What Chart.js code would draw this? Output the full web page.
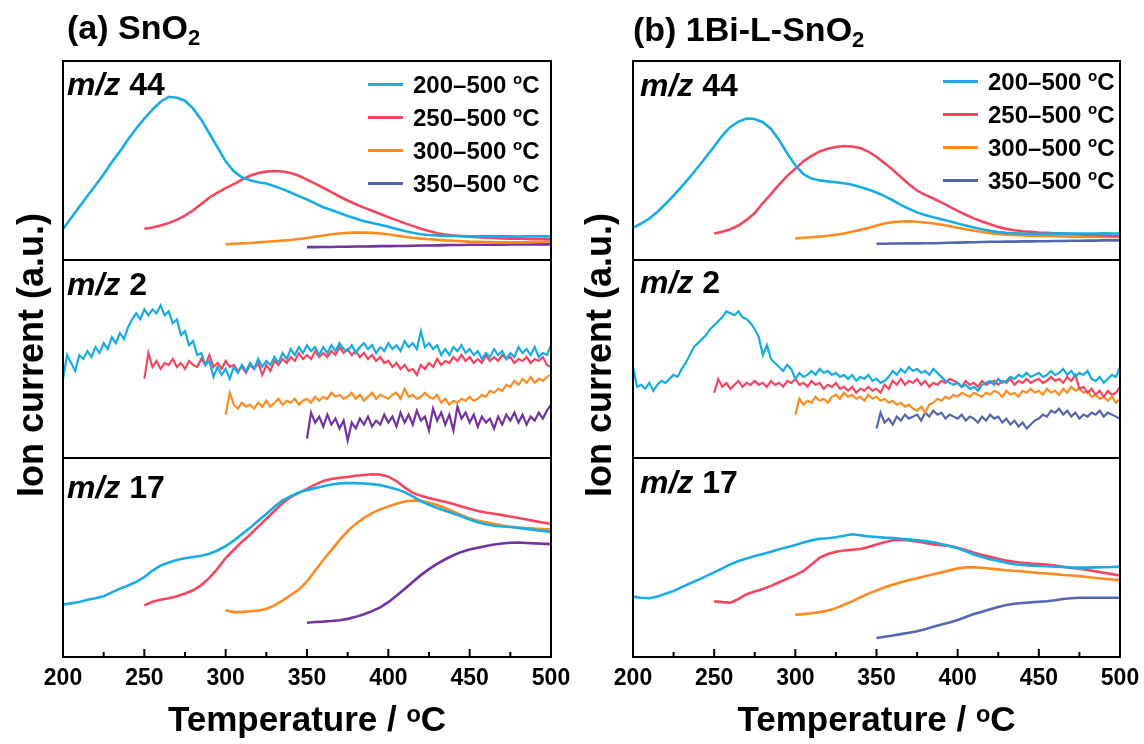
<!DOCTYPE html>
<html>
<head>
<meta charset="utf-8">
<script src="https://cdn.jsdelivr.net/npm/chart.js@4.4.0/dist/chart.umd.min.js"></script>
<style>
  body { margin: 0; background: #fff; width: 1144px; height: 744px; position: relative; overflow: hidden;
         font-family: 'Liberation Sans', Arial, sans-serif; font-weight: bold; color: #000; }
  .panel { position: absolute; top: 0; width: 572px; height: 744px; }
  .title { position: absolute; font-size: 34px; line-height: 34px; white-space: nowrap; }
  .title sub { font-size: 22px; vertical-align: -6px; line-height: 0; }
  .ylab { position: absolute; font-size: 36px; white-space: nowrap; transform: translate(-50%, -50%) rotate(-90deg); }
  .band { position: absolute; font-size: 32px; line-height: 32px; white-space: nowrap; }
  .legend { position: absolute; font-size: 24px; }
  .legend .row { height: 33px; line-height: 33px; white-space: nowrap; }
  .legend .sw { display: inline-block; width: 35px; height: 3px; vertical-align: middle; margin-right: 10px; position: relative; top: -2px; }
  .legend sup { font-size: 15px; vertical-align: 9px; line-height: 0; }
</style>
</head>
<body>
<div class="panel" style="left:0"><canvas id="chartA" width="572" height="744"></canvas></div>
<div class="panel" style="left:572px"><canvas id="chartB" width="572" height="744"></canvas></div>

<div class="title" style="left:67px; top:10px">(a) SnO<sub>2</sub></div>
<div class="title" style="left:633px; top:12px">(b) 1Bi-L-SnO<sub>2</sub></div>
<div class="ylab" style="left:31px; top:355px">Ion current (a.u.)</div>
<div class="ylab" style="left:599px; top:355px">Ion current (a.u.)</div>
<div id="bandsA"></div>
<div id="bandsB"></div>
<div class="legend" id="legendA" style="left:368px; top:68px"></div>
<div class="legend" id="legendB" style="left:943px; top:65px"></div>

<script>
// heating ranges: every trace starts at its own temperature and runs to 500 °C
const RANGE_START = [200, 250, 300, 350];
const RANGE_LABELS = ['200–500', '250–500', '300–500', '350–500'];
// stacked sub-plots, top to bottom
const BANDS = ['44', '2', '17'];
const BAND_STEP = [5, 2.5, 5];   // °C between readings

// ---- (a) SnO2, m/z 44 (relative signal, 0–100 per sub-plot) ----
const a44_200 = [15.5, 21, 26.5, 32, 37.5, 43, 49, 54.5, 60.5, 66, 71, 75.5, 79.5, 82, 81.5, 80, 76, 70.5, 63.5, 56.5,
  49.5, 44.5, 41.5, 40, 39, 38.3, 37, 35.5, 33.8, 32, 30.3, 28.3, 26.4, 25, 23.5, 22, 20.7, 19.4, 18.5, 17.6,
  16.6, 15.5, 14.4, 13.5, 12.8, 12.4, 12.2, 12, 11.9, 11.9, 11.8, 11.8, 11.7, 11.7, 11.8, 11.7, 11.6, 11.7, 11.8, 11.7, 11.7];
const a44_250 = [15.6, 16.2, 17.2, 18.5, 20, 22.2, 24.8, 28, 31.3, 33.8, 36, 38, 40.3, 42.2, 43.6, 44.3, 44.6, 44.4, 43.6, 42.2,
  40.3, 38.3, 36.2, 34, 31.8, 29.8, 27.9, 26.2, 24.6, 23, 21.4, 19.9, 18.4, 17, 15.6, 14.4, 13.3, 12.6, 12.1, 11.8,
  11.5, 11.3, 11.1, 10.9, 10.7, 10.6, 10.5, 10.4, 10.3, 10.3, 10.2];
const a44_300 = [7.7, 8, 8.2, 8.4, 8.7, 9, 9.3, 9.6, 9.9, 10.4, 10.9, 11.6, 12.2, 12.8, 13.2, 13.5, 13.6, 13.6, 13.5, 13.2,
  12.8, 12.1, 11.5, 11, 10.6, 10.3, 10, 9.7, 9.5, 9.3, 9.1, 9, 8.9, 8.8, 8.7, 8.7, 8.7, 8.8, 8.8, 8.9, 9];
const a44_350 = [6.3, 6.3, 6.4, 6.4, 6.5, 6.5, 6.6, 6.6, 6.7, 6.8, 6.8, 6.9, 6.9, 7, 7.1, 7.1, 7.2, 7.3, 7.4, 7.4,
  7.5, 7.5, 7.5, 7.5, 7.5, 7.6, 7.6, 7.6, 7.7, 7.7, 7.7];

// ---- (a) SnO2, m/z 2 ----
const a2_200 = [40, 52, 48, 44, 52, 50, 54, 51, 56, 53,
  58, 55, 61, 58, 63, 60, 66, 70, 73, 70,
  75, 72, 75, 73, 77, 72, 74, 68, 70, 62,
  64, 57, 59, 52, 53, 47, 49, 41, 46, 42,
  45, 40, 46, 43, 47, 44, 48, 45, 50, 46,
  49, 47, 51, 48, 53, 50, 55, 52, 56, 53,
  57, 54, 56, 52, 56, 53, 57, 54, 58, 55,
  54, 57, 53, 56, 58, 55, 57, 53, 56, 54,
  58, 55, 57, 54, 59, 56, 58, 55, 64, 56,
  58, 55, 57, 52, 55, 52, 56, 54, 57, 53,
  55, 52, 54, 50, 53, 51, 55, 52, 54, 50,
  53, 51, 56, 53, 55, 52, 56, 51, 53, 52, 57];
const a2_250 = [40, 53, 46, 49, 45, 48, 47, 50, 46, 48,
  45, 49, 47, 46, 50, 47, 52, 46, 48, 45,
  49, 46, 47, 44, 46, 43, 47, 45, 48, 42,
  47, 44, 49, 47, 50, 48, 51, 49, 53, 50,
  52, 50, 54, 51, 53, 51, 54, 52, 56, 53,
  55, 52, 54, 51, 53, 50, 52, 49, 51, 48,
  49, 46, 48, 45, 47, 44, 45, 42, 47, 45,
  48, 46, 50, 47, 49, 48, 51, 49, 52, 49,
  51, 48, 50, 48, 52, 49, 51, 49, 52, 50,
  51, 48, 50, 49, 51, 48, 50, 49, 51, 47, 46];
const a2_300 = [22, 33, 27, 25, 28, 26, 27, 25, 28, 26,
  29, 26, 28, 30, 27, 29, 28, 30, 27, 29,
  30, 28, 31, 29, 31, 30, 33, 31, 32, 30,
  31, 33, 30, 32, 29, 31, 33, 30, 32, 31,
  30, 32, 33, 30, 35, 31, 32, 30, 31, 33,
  31, 30, 32, 28, 30, 27, 29, 28, 30, 29,
  31, 29, 30, 32, 31, 34, 33, 35, 34, 37,
  36, 39, 37, 40, 38, 41, 38, 40, 39, 41, 42];
const a2_350 = [10, 23, 18, 21, 16, 22, 17, 20, 15, 19,
  9, 18, 15, 20, 17, 21, 16, 19, 17, 22,
  18, 21, 16, 23, 18, 22, 17, 24, 19, 21,
  14, 25, 19, 23, 17, 22, 14, 26, 20, 23,
  18, 22, 16, 21, 18, 20, 15, 21, 17, 22,
  19, 23, 18, 22, 17, 21, 19, 23, 20, 24, 27];

// ---- (a) SnO2, m/z 17 ----
const a17_200 = [26.4, 27, 27.7, 28.8, 29.6, 30.6, 32.5, 34.4, 36, 37.8, 40.2, 43.5, 46, 47.6, 48.8, 49.7, 50.3, 51, 52, 53.6,
  55.8, 58.6, 61.8, 65, 68.6, 72, 75.6, 78.8, 81, 82.8, 84, 85, 86, 86.8, 87.4, 87.6, 87.5, 87.3, 87, 86.5,
  85.6, 84.5, 83, 80.8, 78.5, 76.6, 75, 73.6, 72.2, 70.8, 69.2, 67.8, 66.8, 66.1, 65.7, 65.4, 65, 64.5, 64, 63.5, 63];
const a17_250 = [26, 27.8, 28.8, 29.6, 30.6, 32, 33.6, 36.2, 39.8, 44.5, 49.8, 54, 58, 61.6, 65.6, 69.5, 73.5, 77.5, 80.5, 82.6,
  84.6, 86.8, 88.6, 89.6, 90.2, 90.6, 91.2, 91.6, 92, 91.8, 90.8, 88.6, 85.4, 82.6, 81.2, 80, 79, 78.1, 77, 75.8,
  74.6, 73.5, 72.7, 72.1, 71.4, 70.7, 70, 69.2, 68.4, 67.7, 67];
const a17_300 = [23.5, 22.6, 22.7, 23, 23.4, 24.2, 26, 28.4, 31.2, 34, 38, 43.4, 48.8, 53.8, 58.8, 63.4, 67, 70, 72.4, 74.3,
  75.8, 77.2, 78.3, 78.8, 78.6, 77.6, 76.5, 75, 73.2, 71.4, 69.8, 68.6, 67.8, 67, 66.2, 65.6, 65.2, 64.9, 64.6, 64.4, 64.2];
const a17_350 = [17.2, 17.6, 17.8, 18.1, 18.5, 19.2, 20.2, 21.5, 23.1, 25, 27.6, 30.8, 34.2, 37.8, 41.2, 44.2, 46.9, 49.2, 51.2, 52.9,
  54.1, 55, 55.9, 56.6, 57.1, 57.5, 57.6, 57.4, 57.2, 57, 56.8];

// ---- (b) 1Bi-L-SnO2, m/z 44 ----
const b44_200 = [16, 18.2, 20.7, 24, 28, 32.3, 36.8, 41.5, 46.5, 51.7, 57, 62.5, 66.8, 69.5, 71, 70.8, 69.2, 65.8, 60.2, 53.5,
  47.5, 43, 40.8, 39.9, 39.4, 39, 38.5, 37.7, 36.6, 35.3, 33.8, 32, 29.9, 27.6, 25.6, 23.8, 22.5, 21.4, 20.4, 19.3,
  18.2, 17.2, 16.2, 15.3, 14.5, 13.9, 13.5, 13.3, 13.1, 13, 13, 13, 13.1, 13.1, 13.2, 13.2, 13.2, 13.2, 13.3, 13.2, 13.2];
const b44_250 = [13.2, 14, 15.3, 17.2, 20, 23.5, 28.5, 33, 37.8, 42.2, 45.8, 49.5, 52.3, 54.5, 55.8, 56.7, 57.2, 57, 56.2, 54.4,
  51.8, 48.6, 45.2, 41.6, 38, 34.8, 32.6, 30.8, 28.8, 26.7, 24.6, 22.6, 20.8, 19.2, 17.8, 16.5, 15.5, 14.8, 14.3, 14,
  13.7, 13.5, 13.3, 13.1, 12.9, 12.7, 12.5, 12.4, 12.2, 12, 11.9];
const b44_300 = [10.7, 11, 11.3, 11.6, 12, 12.5, 13.2, 14, 15, 16, 17.2, 18.2, 18.9, 19.2, 19.3, 19.1, 18.7, 18.2, 17.6, 16.9,
  16.1, 15.3, 14.6, 13.9, 13.3, 12.9, 12.6, 12.4, 12.2, 12.1, 12, 11.9, 11.8, 11.7, 11.6, 11.6, 11.5, 11.5, 11.4, 11.4, 11.4];
const b44_350 = [8, 8, 8.1, 8.1, 8.2, 8.2, 8.3, 8.3, 8.4, 8.5, 8.6, 8.7, 8.8, 8.9, 9, 9, 9.1, 9.1, 9.2, 9.2,
  9.3, 9.3, 9.4, 9.4, 9.5, 9.5, 9.6, 9.6, 9.7, 9.7, 9.7];

// ---- (b) 1Bi-L-SnO2, m/z 2 ----
const b2_200 = [46, 36, 37, 35, 38, 34, 37, 39, 38, 40,
  42, 41, 45, 48, 52, 56, 58, 60, 62, 65,
  67, 69, 71, 74, 73, 72, 74, 71, 70, 68,
  65, 61, 52, 57, 50, 48, 46, 44, 47, 45,
  40, 43, 41, 42, 44, 42, 45, 43, 44, 42,
  43, 41, 42, 40, 42, 39, 41, 40, 42, 39,
  40, 38, 39, 41, 44, 42, 45, 43, 46, 44,
  45, 43, 44, 42, 45, 43, 41, 39, 38, 37,
  38, 36, 37, 35, 36, 34, 37, 38, 39, 37,
  40, 38, 39, 41, 40, 42, 41, 43, 41, 42,
  43, 41, 42, 44, 42, 43, 45, 42, 44, 41,
  43, 42, 44, 40, 39, 41, 38, 40, 42, 41, 46];
const b2_250 = [33, 40, 36, 38, 35, 37, 39, 36, 38, 37,
  39, 37, 38, 36, 39, 37, 38, 36, 39, 38,
  40, 37, 38, 36, 39, 37, 38, 35, 37, 36,
  38, 35, 36, 34, 36, 33, 35, 34, 36, 34,
  35, 33, 37, 35, 39, 37, 40, 37, 39, 38,
  40, 37, 39, 36, 38, 37, 39, 38, 40, 39,
  38, 36, 39, 37, 38, 36, 39, 37, 38, 39,
  37, 39, 38, 40, 37, 39, 38, 40, 38, 39,
  40, 38, 39, 41, 39, 40, 38, 41, 39, 42,
  35, 36, 33, 35, 32, 34, 31, 34, 32, 33, 36];
const b2_300 = [22, 30, 27, 29, 28, 31, 29, 30, 28, 31,
  32, 30, 33, 31, 32, 30, 31, 29, 32, 30,
  31, 29, 30, 28, 29, 27, 28, 26, 27, 25,
  24, 26, 23, 27, 28, 30, 29, 31, 30, 32,
  31, 33, 32, 31, 33, 32, 31, 33, 32, 34,
  33, 31, 34, 32, 33, 31, 34, 33, 35, 33,
  34, 32, 35, 33, 34, 32, 35, 33, 36, 34,
  35, 33, 34, 31, 32, 30, 31, 29, 31, 28, 30];
const b2_350 = [15, 23, 18, 20, 17, 21, 19, 22, 20, 21,
  22, 19, 23, 21, 24, 22, 23, 20, 22, 21,
  20, 22, 19, 21, 20, 18, 21, 19, 22, 20,
  21, 18, 20, 17, 19, 16, 18, 15, 17, 19,
  20, 22, 21, 24, 23, 25, 22, 24, 21, 23,
  20, 22, 21, 23, 22, 24, 21, 23, 22, 21, 20];

// ---- (b) 1Bi-L-SnO2, m/z 17 ----
const b17_200 = [30.4, 29.8, 29.6, 30.4, 31.8, 33.2, 35.2, 37, 38.8, 40.7, 42.6, 44.6, 46.6, 48.3, 49.6, 50.8, 51.9, 53, 54.2, 55.3,
  56.4, 57.6, 58.7, 59.5, 59.8, 60.3, 61, 61.8, 61.3, 60.7, 60.4, 60.1, 59.9, 59.5, 59.2, 58.8, 58.4, 57.7, 56.9, 55.9,
  54.7, 53.2, 51.6, 50.3, 49.2, 48.3, 47.4, 46.7, 46.3, 46, 45.8, 45.7, 45.5, 45.3, 45.1, 45, 45, 45.1, 45.2, 45.3, 45.5];
const b17_250 = [28, 27.6, 27.4, 29.2, 31.6, 33, 34.2, 35.8, 37.6, 39.4, 41.2, 43.3, 46.6, 50, 51.8, 53, 53.6, 54, 54.4, 55.4,
  56.6, 57.8, 58.8, 59, 58.7, 58.2, 57.4, 56.7, 56.3, 55.9, 55, 53.8, 52.5, 51.3, 50.4, 49.4, 48.5, 47.9, 47.4, 47,
  46.8, 46.5, 46, 45.4, 44.8, 44.4, 43.8, 43.1, 42.4, 41.7, 41];
const b17_300 = [21.2, 21.6, 22, 22.6, 23.4, 24.6, 26.3, 28, 30, 31.9, 33.5, 35.1, 36.4, 37.6, 38.7, 39.6, 40.6, 41.6, 42.6, 43.6,
  44.6, 45.1, 45.1, 44.9, 44.5, 44.1, 43.7, 43.4, 43.1, 42.7, 42.3, 42, 41.7, 41.3, 41, 40.7, 40.3, 39.8, 39.4, 39, 38.7];
const b17_350 = [9.6, 10.2, 10.8, 11.5, 12.2, 13, 14, 15.2, 16.3, 17.4, 18.6, 20.1, 21.6, 22.8, 24, 25.2, 26.2, 26.8, 27.2, 27.5,
  27.8, 28.1, 28.6, 29.2, 29.6, 29.8, 29.8, 29.8, 29.8, 29.8, 29.8];

const COLORS_A = ['#17ade4', '#f7455f', '#ff8a1f', '#7232a2'];
const COLORS_B = ['#17ade4', '#f7455f', '#ff8a1f', '#5566b0'];
const LEGEND_COLORS = ['#17ade4', '#f7455f', '#ff8a1f', '#5566b0'];

const FONT = "'Liberation Sans', Arial, 'DejaVu Sans', sans-serif";

function buildDatasets(groups, colors) {
  const sets = [];
  groups.forEach((group, b) => {
    const offset = (2 - b) * 100;   // m/z 44 on top, m/z 17 at the bottom
    group.forEach((vals, k) => {
      sets.push({
        label: 'm/z ' + BANDS[b] + ' ' + RANGE_LABELS[k],
        data: vals.map((v, i) => ({ x: RANGE_START[k] + i * BAND_STEP[b], y: v + offset })),
        borderColor: colors[k],
        borderWidth: b === 1 ? 2.2 : 2.6,
        pointRadius: 0,
        tension: 0
      });
    });
  });
  return sets;
}

// box, sub-plot dividers and inward tick marks
const framePlugin = {
  id: 'frame',
  afterDatasetsDraw(chart) {
    const { ctx, chartArea: a, scales: { x, y } } = chart;
    ctx.save();
    ctx.strokeStyle = '#000';
    ctx.lineWidth = 2;
    ctx.strokeRect(a.left, a.top, a.right - a.left, a.bottom - a.top);
    [100, 200].forEach(v => {
      const py = Math.round(y.getPixelForValue(v));
      ctx.beginPath();
      ctx.moveTo(a.left, py);
      ctx.lineTo(a.right, py);
      ctx.stroke();
    });
    const ticks = x.ticks.map(t => t.value);
    ticks.forEach((t, i) => {
      const px = x.getPixelForValue(t);
      ctx.beginPath();
      ctx.moveTo(px, a.bottom);
      ctx.lineTo(px, a.bottom - 8);
      ctx.stroke();
      if (i < ticks.length - 1) {
        const mx = x.getPixelForValue((t + ticks[i + 1]) / 2);
        ctx.beginPath();
        ctx.moveTo(mx, a.bottom);
        ctx.lineTo(mx, a.bottom - 5);
        ctx.stroke();
      }
    });
    ctx.restore();
  }
};

function makeChart(id, groups, colors, pad) {
  return new Chart(document.getElementById(id), {
    type: 'line',
    data: { datasets: buildDatasets(groups, colors) },
    options: {
      responsive: false,
      animation: false,
      layout: { padding: { left: pad.left, right: pad.right, top: 61, bottom: 0 } },
      plugins: { legend: { display: false }, tooltip: { enabled: false } },
      scales: {
        x: {
          type: 'linear', min: 200, max: 500,
          grid: { display: false, drawTicks: false },
          border: { display: false },
          ticks: { stepSize: 50, color: '#000', padding: 8, maxRotation: 0,
                   font: { family: FONT, size: 23, weight: 'bold' } },
          title: { display: true, text: 'Temperature / ᵒC', color: '#000',
                   font: { family: FONT, size: 35, weight: 'bold' }, padding: { top: 0, bottom: 2 } },
          afterFit(scale) {
            scale.height = 87;
            // end labels may hang past the box; the outer padding already leaves room
            scale.paddingLeft = 0;
            scale.paddingRight = 0;
          }
        },
        y: { min: 0, max: 300, display: false }
      }
    },
    plugins: [framePlugin]
  });
}

makeChart('chartA', [
  [a44_200, a44_250, a44_300, a44_350],
  [a2_200, a2_250, a2_300, a2_350],
  [a17_200, a17_250, a17_300, a17_350]
], COLORS_A, { left: 63, right: 21 });

makeChart('chartB', [
  [b44_200, b44_250, b44_300, b44_350],
  [b2_200, b2_250, b2_300, b2_350],
  [b17_200, b17_250, b17_300, b17_350]
], COLORS_B, { left: 61, right: 24 });

// m/z labels in the top-left corner of each sub-plot
function bandLabels(el, left, tops) {
  el.innerHTML = BANDS.map((m, i) =>
    `<div class="band" style="left:${left}px; top:${tops[i]}px"><i>m/z</i> ${m}</div>`).join('');
}
bandLabels(document.getElementById('bandsA'), 67, [68, 268, 471]);
bandLabels(document.getElementById('bandsB'), 640, [69, 266, 466]);

function legend(el) {
  el.innerHTML = RANGE_LABELS.map((r, k) =>
    `<div class="row"><span class="sw" style="background:${LEGEND_COLORS[k]}"></span>${r} <sup>o</sup>C</div>`).join('');
}
legend(document.getElementById('legendA'));
legend(document.getElementById('legendB'));
</script>
</body>
</html>
